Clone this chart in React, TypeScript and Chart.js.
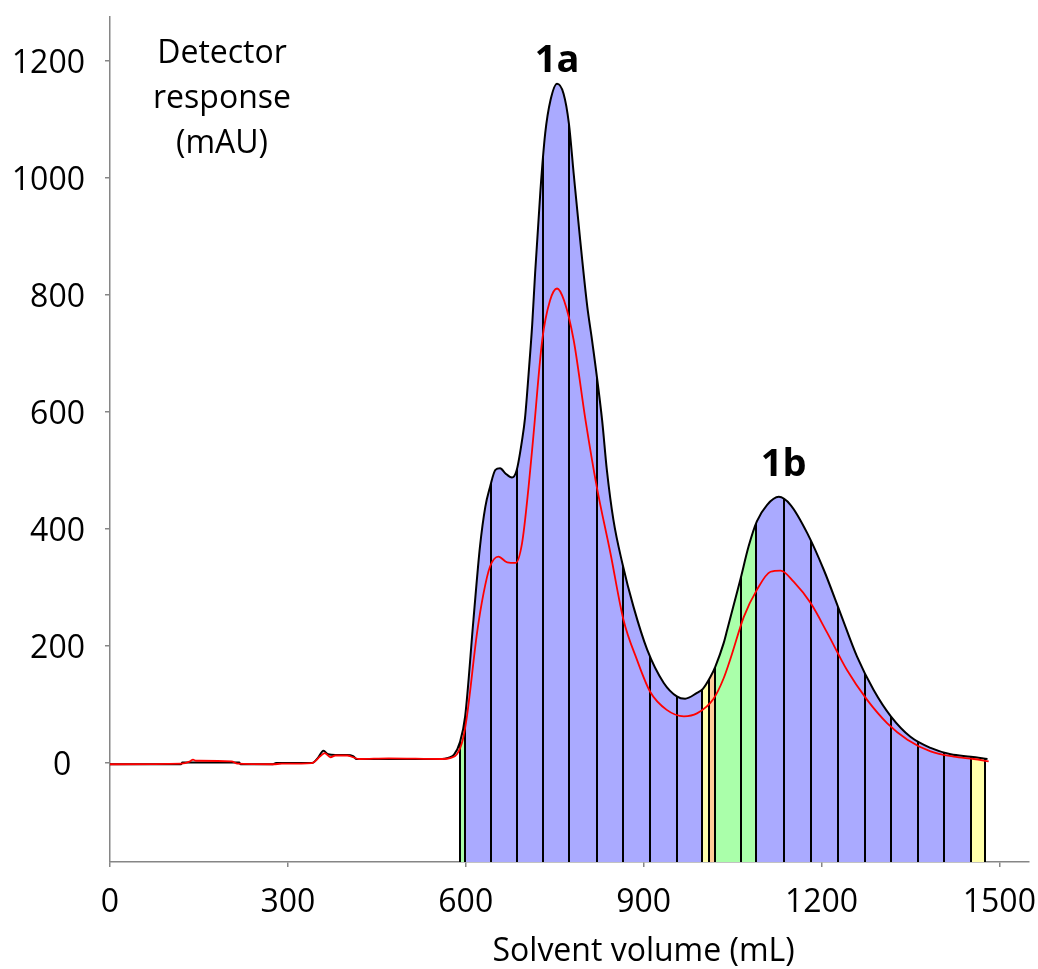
import React, { useEffect, useRef } from 'react';
import { Chart, registerables } from 'chart.js';

Chart.register(...registerables);

// ---- Data ----
// Total detector response (black trace)
const volumeBlack = [0, 120, 122, 218, 220, 275, 280, 340, 350, 360, 368, 380, 400, 410, 416, 560, 570, 580, 590, 599, 613, 624, 633, 641, 650, 658, 667, 678, 686, 695, 700, 706, 712, 717, 726, 734, 743, 754, 765, 774, 782, 793, 805, 813, 830, 838, 849, 864, 883, 906, 934, 956, 970, 990, 1000, 1013, 1021, 1035, 1041, 1063, 1077, 1091, 1108, 1128, 1148, 1176, 1204, 1232, 1260, 1288, 1317, 1350, 1384, 1418, 1452, 1480];
const responseBlack = [-2, -2, 1, 1, -2, -2, 0, 0, 8, 21, 15, 14, 14, 12, 7, 7, 9, 14, 35, 80, 245, 370, 438, 472, 501, 504, 495, 488, 501, 552, 590, 665, 748, 837, 979, 1076, 1133, 1161, 1144, 1093, 1008, 894, 780, 723, 586, 501, 416, 342, 267, 194, 137, 114, 110, 120, 127, 148, 165, 205, 228, 313, 370, 413, 441, 455, 441, 393, 330, 256, 182, 125, 80, 45, 26, 15, 11, 7];

// Second wavelength (red trace)
const volumeRed = [0, 120, 135, 140, 145, 150, 205, 215, 275, 290, 340, 355, 362, 372, 380, 400, 410, 420, 470, 560, 575, 585, 595, 602, 619, 630, 641, 655, 670, 684, 695, 706, 714, 729, 742, 754, 766, 782, 802, 821, 844, 866, 889, 911, 939, 968, 990, 1018, 1035, 1047, 1069, 1091, 1114, 1131, 1153, 1182, 1210, 1243, 1277, 1311, 1345, 1384, 1423, 1457, 1482];
const responseRed = [-2, -1, 3, 6, 4, 4, 3, -1, -2, -1, 0, 12, 17, 10, 13, 13, 10, 7, 8, 7, 9, 15, 40, 80, 222, 290, 336, 353, 343, 342, 376, 472, 558, 723, 790, 811, 790, 723, 586, 472, 359, 245, 176, 122, 91, 80, 85, 110, 145, 180, 250, 296, 327, 329, 310, 273, 222, 159, 108, 68, 40, 20, 11, 7, 3];

// Collected fractions: edges (mL) and the colour of each fraction
const fractionEdges = [590, 599, 643, 687, 730, 775, 821, 866, 910, 957, 999, 1010, 1021, 1065, 1089, 1136, 1183, 1228, 1274, 1318, 1362, 1407, 1452, 1476];
const BLUE = '#aaaaff';
const GREEN = '#aaffaa';
const YELLOW = '#ffffaa';
const ORANGE = '#ffcc99';
const fractionColors = [
  GREEN,
  BLUE, BLUE, BLUE, BLUE, BLUE, BLUE, BLUE, BLUE, BLUE,
  YELLOW, ORANGE, GREEN, GREEN,
  BLUE, BLUE, BLUE, BLUE, BLUE, BLUE, BLUE, BLUE,
  YELLOW,
];

const xTickValues = [0, 300, 600, 900, 1200, 1500];
const yTickValues = [0, 200, 400, 600, 800, 1000, 1200];

const peakLabels = ['1a', '1b'];
const peakLabelX = [754, 1136];
const peakLabelY = [1181, 491];

const yTitleLines = ['Detector', 'response', '(mAU)'];
const xTitle = 'Solvent volume (mL)';

const FONT = "'Open Sans', sans-serif";
const AXIS_COLOR = '#868686';

function fractionFill(context: any) {
  const chart = context.chart;
  const area = chart.chartArea;
  const xs = chart.scales && chart.scales.x;
  if (!area || !xs) return 'rgba(0,0,0,0)';
  const w = area.right - area.left;
  const g = chart.ctx.createLinearGradient(area.left, 0, area.right, 0);
  const T = 'rgba(0,0,0,0)';
  const LINE = '#000000';
  const hw = 1.0 / w;
  const clamp = (o: number) => Math.min(1, Math.max(0, o));
  const off = (v: number) => (xs.getPixelForValue(v) - area.left) / w;
  const stops: [number, string][] = [[0, T]];
  fractionEdges.forEach((e, i) => {
    const p = off(e);
    const before = i === 0 ? T : fractionColors[i - 1];
    const after = i === fractionEdges.length - 1 ? T : fractionColors[i];
    stops.push([p - hw, before], [p - hw, LINE], [p + hw, LINE], [p + hw, after]);
  });
  stops.push([1, T]);
  let last = 0;
  stops.forEach(([o, c]) => {
    const oo = Math.max(last, clamp(o));
    last = oo;
    g.addColorStop(oo, c);
  });
  return g;
}

const textPlugin = {
  id: 'textPlugin',
  afterDraw(chart: any) {
    const ctx = chart.ctx;
    const xs = chart.scales.x;
    const ys = chart.scales.y;
    const area = chart.chartArea;
    ctx.save();
    ctx.fillStyle = '#000';
    ctx.textAlign = 'center';
    ctx.textBaseline = 'alphabetic';
    // y-axis title inside the plot
    ctx.font = `32px ${FONT}`;
    yTitleLines.forEach((line, i) => {
      ctx.fillText(line, area.left + 112, area.top + 46 + i * 45);
    });
    // x-axis title
    ctx.fillText(xTitle, xs.getPixelForValue(900), chart.height - 8);
    // peak labels
    ctx.font = `bold 38px ${FONT}`;
    peakLabels.forEach((t, i) => {
      ctx.fillText(t, xs.getPixelForValue(peakLabelX[i]), ys.getPixelForValue(peakLabelY[i]));
    });
    ctx.restore();
  },
};

const zeroPadding = (scale: any) => {
  scale.paddingTop = 0;
  scale.paddingBottom = 0;
  scale.paddingLeft = 0;
  scale.paddingRight = 0;
};

export default function App() {
  const canvasRef = useRef<HTMLCanvasElement | null>(null);

  useEffect(() => {
    const canvas = canvasRef.current;
    if (!canvas) return;
    const chart = new Chart(canvas, {
      type: 'line',
      data: {
        datasets: [
          {
            label: 'red',
            data: volumeRed.map((v, i) => ({ x: v, y: responseRed[i] })),
            borderColor: '#ff0000',
            borderWidth: 1.8,
            pointRadius: 0,
            fill: false,
            cubicInterpolationMode: 'monotone',
            order: 0,
          },
          {
            label: 'total',
            data: volumeBlack.map((v, i) => ({ x: v, y: responseBlack[i] })),
            borderColor: '#000000',
            borderWidth: 2,
            pointRadius: 0,
            fill: 'start',
            backgroundColor: fractionFill,
            cubicInterpolationMode: 'monotone',
            order: 1,
          },
        ],
      },
      options: {
        animation: false,
        responsive: false,
        devicePixelRatio: 1,
        layout: { autoPadding: false, padding: { left: 0, top: 17, right: 9, bottom: 0 } },
        plugins: {
          legend: { display: false },
          tooltip: { enabled: false },
        },
        scales: {
          x: {
            type: 'linear',
            min: 0,
            max: 1550,
            afterBuildTicks: (scale: any) => {
              scale.ticks = xTickValues.map((v) => ({ value: v }));
            },
            afterFit: (scale: any) => {
              scale.height = 107;
              zeroPadding(scale);
            },
            border: { display: true, color: AXIS_COLOR, width: 1.5 },
            grid: { drawOnChartArea: false, drawTicks: true, tickLength: 5, color: AXIS_COLOR, lineWidth: 1.5 },
            ticks: {
              color: '#000',
              font: { family: FONT, size: 32 },
              padding: 17,
              maxRotation: 0,
              autoSkip: false,
              callback: (v: any) => String(v),
            },
          },
          y: {
            type: 'linear',
            min: -169,
            max: 1275,
            afterBuildTicks: (scale: any) => {
              scale.ticks = yTickValues.map((v) => ({ value: v }));
            },
            afterFit: (scale: any) => {
              scale.width = 110;
              zeroPadding(scale);
            },
            border: { display: true, color: AXIS_COLOR, width: 1.5 },
            grid: { drawOnChartArea: false, drawTicks: true, tickLength: 5, color: AXIS_COLOR, lineWidth: 1.5 },
            ticks: {
              color: '#000',
              font: { family: FONT, size: 32 },
              padding: 20,
              labelOffset: 3,
              autoSkip: false,
              callback: (v: any) => (v === 0 ? '0 \u2009' : String(v)),
            },
          },
        },
      },
      plugins: [textPlugin],
    } as any);
    return () => chart.destroy();
  }, []);

  return (
    <div style={{ position: 'fixed', left: 0, top: 0, width: 1038, height: 969, background: '#fff' }}>
      <canvas ref={canvasRef} width={1038} height={969} style={{ display: 'block', width: 1038, height: 969 }} />
    </div>
  );
}
